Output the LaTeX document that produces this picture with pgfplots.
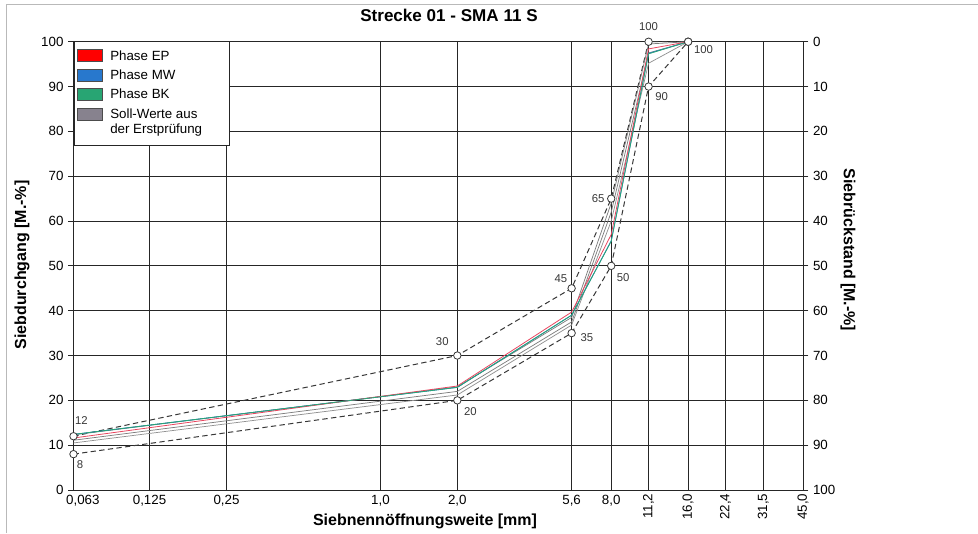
\documentclass[border=0pt]{standalone}
\usepackage{fontspec}
\setmainfont{Liberation Sans}
\usepackage{pgfplots}
\pgfplotsset{compat=1.18}

\definecolor{epred}{RGB}{232,70,95}
\definecolor{mwblue}{RGB}{40,120,205}
\definecolor{bkgreen}{RGB}{40,165,115}
\definecolor{sollgray}{RGB}{135,130,142}
\definecolor{curvegray}{RGB}{125,125,125}
\definecolor{limitgray}{RGB}{55,55,55}

% sieve sizes and passing percentages
\pgfplotstableread{
d     upper lower
0.063 12    8
2.0   30    20
5.6   45    35
8.0   65    50
11.2  100   90
16.0  100   100
}\limits

\pgfplotstableread{
d     g1    g2    g3    ep    mw    bk
0.063 12.3  11.1  10.5  11.6  12.4  12.4
2.0   23.0  22.0  21.2  23.2  22.9  22.9
5.6   38.5  37.5  36.8  39.7  39.0  39.0
8.0   64.0  62.0  60.0  57.0  55.6  55.5
11.2  99.5  97.5  95.2  98.4  97.4  97.3
16.0  100   100   100   100   100   100
}\curves

\newcommand\tickfont{\fontsize{10}{12}\selectfont}
\newcommand\labfont{\fontsize{12}{14}\selectfont\bfseries}
\newcommand\valfont{\fontsize{8.5}{10}\selectfont\color{limitgray}}

\begin{document}
\begin{tikzpicture}[x=0.75pt,y=0.75pt]
\useasboundingbox (0,0) rectangle (978,533);
\draw[gray!55, line width=0.6pt] (6,0) -- (6,529) -- (978,529);

\begin{axis}[
  at={(55.125pt,32.25pt)}, anchor=south west,
  width=547.1pt, height=336.2pt, scale only axis,
  xmode=log, xmin=0.063, xmax=45, ymin=0, ymax=100,
  xtick={0.063,0.125,0.25,1,2,5.6,8,11.2,16,22.4,31.5,45},
  xticklabels={{\makebox[0pt][l]{\hspace*{-5.5pt}0,063}},{0,125},{0,25},{1,0},{2,0},{5,6},{8,0},{},{},{},{},{}},
  xtick align=inside,
  ytick={0,10,...,100},
  ytick pos=left, ytick align=outside, major tick length=4pt,
  grid=major,
  major grid style={black!85, line width=0.6pt},
  axis line style={black!85, line width=0.6pt},
  tick style={black!85, line width=0.6pt},
  ticklabel style={font=\tickfont},
  /pgf/number format/assume math mode=true,
  clip=false,
]
% target limits of the initial test
\addplot[limitgray, line width=0.75pt, dash pattern=on 4pt off 2.5pt] table[x=d, y=upper] {\limits};
\addplot[limitgray, line width=0.75pt, dash pattern=on 4pt off 2.5pt] table[x=d, y=lower] {\limits};
% individual grading curves
\addplot[curvegray, line width=0.55pt] table[x=d, y=g1] {\curves};
\addplot[curvegray, line width=0.55pt] table[x=d, y=g2] {\curves};
\addplot[curvegray!85, line width=0.55pt] table[x=d, y=g3] {\curves};
% phases
\addplot[mwblue, line width=0.6pt] table[x=d, y=mw] {\curves};
\addplot[epred, line width=0.6pt] table[x=d, y=ep] {\curves};
\addplot[bkgreen, line width=0.6pt] table[x=d, y=bk] {\curves};
% limit points
\addplot[only marks, mark=*, mark size=2.8pt, mark options={draw=limitgray, fill=white, line width=0.6pt}] table[x=d, y=upper] {\limits};
\addplot[only marks, mark=*, mark size=2.8pt, mark options={draw=limitgray, fill=white, line width=0.6pt}] table[x=d, y=lower] {\limits};

% values of the limits
\node[font=\valfont, xshift=6pt, yshift=12pt] at (axis cs:0.063,12) {12};
\node[font=\valfont, xshift=4.9pt, yshift=-7.5pt] at (axis cs:0.063,8) {8};
\node[font=\valfont, xshift=-11.3pt, yshift=10.5pt] at (axis cs:2,30) {30};
\node[font=\valfont, xshift=9.8pt, yshift=-8.6pt] at (axis cs:2,20) {20};
\node[font=\valfont, xshift=-8pt, yshift=7.5pt] at (axis cs:5.6,45) {45};
\node[font=\valfont, xshift=11.5pt, yshift=-3pt] at (axis cs:5.6,35) {35};
\node[font=\valfont, xshift=-9.8pt] at (axis cs:8,65) {65};
\node[font=\valfont, xshift=9pt, yshift=-9pt] at (axis cs:8,50) {50};
\node[font=\valfont, yshift=11pt] at (axis cs:11.2,100) {100};
\node[font=\valfont, xshift=9.8pt, yshift=-7.5pt] at (axis cs:11.2,90) {90};
\node[font=\valfont, xshift=11.5pt, yshift=-6.2pt] at (axis cs:16,100) {100};

% upright coarse sieve labels
\node[rotate=90, anchor=east, inner sep=2.5pt, font=\tickfont] at (axis cs:11.2,0) {11,2};
\node[rotate=90, anchor=east, inner sep=2.5pt, font=\tickfont] at (axis cs:16,0) {16,0};
\node[rotate=90, anchor=east, inner sep=2.5pt, font=\tickfont] at (axis cs:22.4,0) {22,4};
\node[rotate=90, anchor=east, inner sep=2.5pt, font=\tickfont] at (axis cs:31.5,0) {31,5};
\node[rotate=90, anchor=east, inner sep=2.5pt, font=\tickfont] at (axis cs:45,0) {45,0};
\end{axis}

% residue scale on the right
\begin{axis}[
  at={(55.125pt,32.25pt)}, anchor=south west,
  width=547.1pt, height=336.2pt, scale only axis,
  xmode=log, xmin=0.063, xmax=45, ymin=0, ymax=100,
  y dir=reverse,
  axis x line=none, axis y line*=right,
  ytick={0,10,...,100},
  ytick align=outside, major tick length=4pt,
  axis line style={black!85, line width=0.6pt},
  tick style={black!85, line width=0.6pt},
  ticklabel style={font=\tickfont},
  /pgf/number format/assume math mode=true,
]
\end{axis}

% titles
\node[font=\fontsize{12.8}{15}\selectfont\bfseries] at (449,517.5) {Strecke 01 - SMA 11 S};
\node[font=\labfont] at (425,12) {Siebnennöffnungsweite [mm]};
\node[font=\labfont, rotate=90] at (22,268) {Siebdurchgang [M.-\%]};
\node[font=\labfont, rotate=-90] at (848,283) {Siebrückstand [M.-\%]};

% legend
\draw[black!85, fill=white, line width=0.6pt] (74,491.3) rectangle (229,388);
\begin{scope}[every node/.style={anchor=west, font=\fontsize{10}{12}\selectfont, inner sep=0pt}]
\draw[fill=red, draw=black!70, line width=0.5pt] (77,471.7) rectangle (102,483.7);
\node at (110,477.7) {Phase EP};
\draw[fill=mwblue, draw=black!70, line width=0.5pt] (77,452) rectangle (102,464);
\node at (110,458) {Phase MW};
\draw[fill=bkgreen, draw=black!70, line width=0.5pt] (77,433) rectangle (102,445);
\node at (110,439) {Phase BK};
\draw[fill=sollgray, draw=black!70, line width=0.5pt] (77,413) rectangle (102,425);
\node at (110,419) {Soll-Werte aus};
\node at (110,403) {der Erstprüfung};
\end{scope}
\end{tikzpicture}
\end{document}
